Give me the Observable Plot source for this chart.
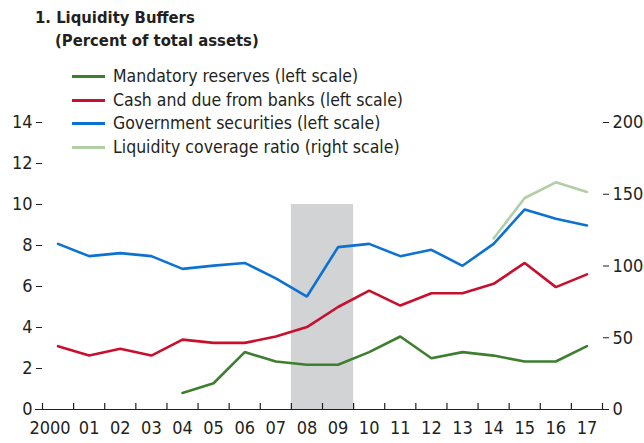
<!DOCTYPE html>
<html>
<head>
<meta charset="utf-8">
<script src="https://cdn.jsdelivr.net/npm/d3@7"></script>
<script src="https://cdn.jsdelivr.net/npm/@observablehq/plot@0.6"></script>
<style>
  html, body { margin: 0; padding: 0; background: #fff; }
  #wrap { position: relative; width: 644px; height: 443px; font-family: "Liberation Sans Narrow", "Arial Narrow", "DejaVu Sans Condensed", sans-serif; color: #231f20; }
  #title { position: absolute; left: 35px; top: 6px; font-weight: bold; font-size: 16.5px; line-height: 23px; }
  #title .sub { padding-left: 20px; }
  #legend { position: absolute; left: 72px; top: 65px; font-size: 17.5px; line-height: 23.5px; }
  #legend .row { display: flex; align-items: center; white-space: nowrap; }
  #legend .sw { width: 33px; height: 3px; margin-right: 8px; }
  svg { position: absolute; left: 0; top: 0; }
</style>
</head>
<body>
<div id="wrap">
  <div id="plot"></div>
  <div id="title">1. Liquidity Buffers<br><span class="sub">(Percent of total assets)</span></div>
  <div id="legend"></div>
</div>
<script>
const years = d3.range(2000, 2018);
const tickLabels = ["2000","01","02","03","04","05","06","07","08","09","10","11","12","13","14","15","16","17"];

const mandatoryYears = [2004,2005,2006,2007,2008,2009,2010,2011,2012,2013,2014,2015,2016,2017];
const mandatory = [0.81,1.28,2.8,2.34,2.18,2.18,2.8,3.56,2.5,2.8,2.63,2.34,2.34,3.09];

const cash = [3.09,2.63,2.96,2.63,3.41,3.25,3.25,3.56,4.02,5.0,5.8,5.07,5.67,5.67,6.13,7.15,5.97,6.59];

const govSec = [8.08,7.48,7.63,7.48,6.86,7.02,7.15,6.4,5.51,7.92,8.08,7.48,7.79,7.01,8.08,9.76,9.3,8.98];

const lcrYears = [2014,2015,2016,2017];
const lcr = [119.2,147.4,158.3,151.6];

const leftTicks = [0,2,4,6,8,10,12,14];
const rightTicks = [0,50,100,150,200];
const shade = [{start: 2007.5, end: 2009.5, top: 10}];

const seriesNames = ["Mandatory reserves (left scale)","Cash and due from banks (left scale)","Government securities (left scale)","Liquidity coverage ratio (right scale)"];
const colors = ["#3d7f2f","#c8102e","#0b72d1","#b0cfa5"];

const k = 14 / 200; // right scale -> left scale

const rows = [];
mandatoryYears.forEach((y,i) => rows.push({series: seriesNames[0], year: y, v: mandatory[i]}));
years.forEach((y,i) => rows.push({series: seriesNames[1], year: y, v: cash[i]}));
years.forEach((y,i) => rows.push({series: seriesNames[2], year: y, v: govSec[i]}));
lcrYears.forEach((y,i) => rows.push({series: seriesNames[3], year: y, v: lcr[i] * k}));

const boundaries = d3.range(1999.5, 2018, 1);
const labelFmt = d => tickLabels[years.indexOf(d)];

const font = '"Liberation Sans Narrow", "Arial Narrow", "DejaVu Sans Condensed", sans-serif';

const chart = Plot.plot({
  width: 644,
  height: 443,
  marginTop: 122,
  marginBottom: 34,
  marginLeft: 42,
  marginRight: 42,
  style: {fontFamily: font, fontSize: "18px", color: "#231f20", background: "transparent"},
  x: {domain: [1999.5, 2017.5]},
  y: {domain: [0, 14]},
  color: {domain: seriesNames, range: colors},
  marks: [
    Plot.rect(shade, {x1: "start", x2: "end", y1: d => 0, y2: "top", fill: "#d2d3d5"}),
    Plot.axisY(leftTicks, {anchor: "left", tickSize: 6, tickPadding: 4, fontSize: 18, label: null}),
    Plot.axisY(rightTicks.map(v => v * k), {anchor: "right", tickSize: 6, tickPadding: 4, fontSize: 18, label: null, tickFormat: d => String(Math.round(d / k))}),
    Plot.axisX(years.slice(1), {anchor: "bottom", tickSize: 0, tickPadding: 12, fontSize: 18, label: null, tickFormat: labelFmt}),
    Plot.axisX(years.slice(0, 1), {anchor: "bottom", tickSize: 0, tickPadding: 12, fontSize: 18, label: null, tickFormat: labelFmt, dx: -8}),
    Plot.ruleY([0], {stroke: "#231f20", strokeWidth: 1.2, insetLeft: -7, insetRight: -4}),
    Plot.ruleX(boundaries, {x: d => d, y1: d => 0, y2: d => 0, insetTop: -6, stroke: "#231f20", strokeWidth: 1.2}),
    Plot.line(rows, {x: "year", y: "v", z: "series", stroke: "series", strokeWidth: 2.6, strokeLinejoin: "miter"})
  ]
});
document.getElementById("plot").appendChild(chart);

const legend = document.getElementById("legend");
seriesNames.forEach((name, i) => {
  const row = document.createElement("div");
  row.className = "row";
  const sw = document.createElement("span");
  sw.className = "sw";
  sw.style.background = colors[i];
  const t = document.createElement("span");
  t.textContent = name;
  row.appendChild(sw); row.appendChild(t);
  legend.appendChild(row);
});
</script>
</body>
</html>
